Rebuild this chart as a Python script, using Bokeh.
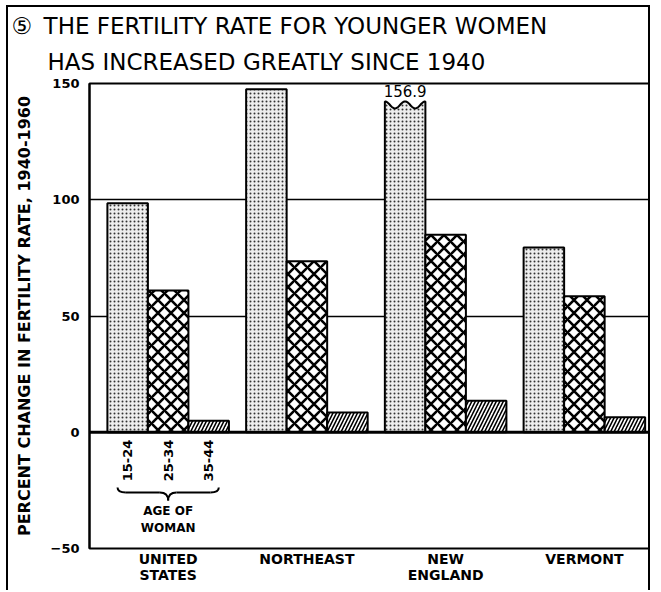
import numpy as np
from math import pi
from bokeh.plotting import figure
from bokeh.models import ColumnDataSource, FixedTicker, Span, Title, Range1d
from bokeh.core.properties import value
from bokeh.embed import file_html
from bokeh.resources import INLINE

# ---- data ----
categories = ["UNITED STATES", "NORTHEAST", "NEW ENGLAND", "VERMONT"]
age_groups = ["15-24", "25-34", "35-44"]
age_15_24 = [98.5, 147.5, 156.9, 79.5]
age_25_34 = [61.0, 73.5, 85.0, 58.5]
age_35_44 = [5.0, 8.5, 13.5, 6.5]
y_ticks = [-50, 0, 50, 100, 150]
grid_ticks = [50, 100]

FONT = "DejaVu Sans"
y_max = 150
break_at = 140.8      # drawn height of a bar that runs off the chart
bw = 0.292            # bar width in category units

p = figure(width=644, height=585,
           x_range=Range1d(-0.567, 3.491), y_range=Range1d(-50, y_max),
           output_backend="svg", toolbar_location=None,
           min_border_left=81, min_border_right=0,
           min_border_top=76, min_border_bottom=44,
           background_fill_color="white", border_fill_color="white")
p.styles = {"margin-left": "6px", "margin-top": "5px",
            "border-top": "2px solid black", "border-left": "2px solid black",
            "border-right": "2px solid black"}

# titles (p.title is the outer line, the added one sits next to the frame)
p.title.text = "\u2464\u2002THE FERTILITY RATE FOR YOUNGER WOMEN"
p.title.align = "left"
p.title.offset = -78
p.title.standoff = 0
p.title.text_font = FONT
p.title.text_font_size = "23px"
p.title.text_font_style = "normal"
p.title.text_color = "black"
p.add_layout(Title(text="HAS INCREASED GREATLY SINCE 1940", align="left",
                   offset=-42, standoff=17, text_font=FONT, text_font_size="23px",
                   text_font_style="normal", text_color="black"), "above")

p.outline_line_color = "black"
p.outline_line_width = 2

# grid
p.xgrid.visible = False
p.ygrid.ticker = FixedTicker(ticks=grid_ticks)
p.ygrid.grid_line_color = "black"
p.ygrid.grid_line_width = 1.5

# y axis
p.yaxis.ticker = FixedTicker(ticks=y_ticks)
p.yaxis.axis_label = "PERCENT CHANGE IN FERTILITY RATE, 1940-1960"
p.yaxis.axis_label_text_font = FONT
p.yaxis.axis_label_text_font_style = "bold"
p.yaxis.axis_label_text_font_size = "16px"
p.yaxis.axis_label_text_color = "black"
p.yaxis.axis_label_standoff = 14
p.yaxis.major_label_text_font = FONT
p.yaxis.major_label_text_font_style = "bold"
p.yaxis.major_label_text_font_size = "13px"
p.yaxis.major_label_text_color = "black"
p.yaxis.major_label_standoff = 10
p.yaxis.major_tick_in = 0
p.yaxis.major_tick_out = 0
p.yaxis.minor_tick_in = 0
p.yaxis.minor_tick_out = 0
p.yaxis.axis_line_width = 2

# x axis
idx = np.arange(len(categories))
p.xaxis.ticker = FixedTicker(ticks=[int(i) for i in idx])
p.xaxis.major_label_overrides = {int(i): c.replace(" ", "\n") for i, c in zip(idx, categories)}
p.xaxis.major_label_text_font = FONT
p.xaxis.major_label_text_font_style = "bold"
p.xaxis.major_label_text_font_size = "14px"
p.xaxis.major_label_text_color = "black"
p.xaxis.major_label_text_line_height = 1.0
p.xaxis.major_label_standoff = 2
p.xaxis.major_tick_in = 0
p.xaxis.major_tick_out = 0
p.xaxis.minor_tick_in = 0
p.xaxis.minor_tick_out = 0
p.xaxis.axis_line_color = None

# bars
styles = [
    dict(fill_color="#eeeeee", hatch_pattern="dot", hatch_scale=4, hatch_weight=1.3, hatch_color="#333333"),
    dict(fill_color="white", hatch_pattern="diagonal_cross", hatch_scale=13, hatch_weight=2.6, hatch_color="black"),
    dict(fill_color="white", hatch_pattern="right_diagonal_line", hatch_scale=7, hatch_weight=1.6, hatch_color="black"),
]
series = [age_15_24, age_25_34, age_35_44]
for k, (vals, st) in enumerate(zip(series, styles)):
    xs = idx + (k - 1) * bw
    vals = np.array(vals, dtype=float)
    broken = vals > y_max
    src = ColumnDataSource(dict(x=xs[~broken], top=vals[~broken]))
    p.vbar(x="x", top="top", bottom=0, width=bw, source=src,
           line_color="black", line_width=2, **st)
    for xb, vb in zip(xs[broken], vals[broken]):
        t = np.linspace(0, 1, 61)
        wx = (xb - bw / 2) + t * bw
        wy = break_at + 1.5 * np.cos(4 * pi * t)
        px = np.concatenate([[xb - bw / 2], wx, [xb + bw / 2]])
        py = np.concatenate([[0], wy, [0]])
        p.patch(px, py, line_color="black", line_width=2, **st)
        p.text(x=[xb], y=[break_at + 5.8], text=[f"{vb:.1f}"],
               text_font=value(FONT), text_font_size="15px",
               text_align="center", text_baseline="middle", text_color="black")

# zero line
p.add_layout(Span(location=0, dimension="width", line_color="black", line_width=3))

# age labels under the first group
us_x = idx[0] + (np.arange(len(age_groups)) - 1) * bw
p.text(x=us_x, y=[-3.2] * len(age_groups), text=age_groups, angle=pi / 2,
       text_align="right", text_baseline="middle", text_font=value(FONT),
       text_font_style="bold", text_font_size="13px", text_color="black")

# brace
M = us_x[1]
L = M - 1.25 * bw
R = M + 1.25 * bw
d = 0.06
y_end, y_mid, y_tip = -23.8, -25.9, -29.4
p.quadratic(x0=[L, R, M - d, M + d], y0=[y_end, y_end, y_mid, y_mid],
            x1=[L + d, R - d, M, M], y1=[y_mid, y_mid, y_tip, y_tip],
            cx=[L, R, M, M], cy=[y_mid, y_mid, y_mid, y_mid],
            line_color="black", line_width=2)
p.segment(x0=[L + d, M + d], y0=[y_mid, y_mid], x1=[M - d, R - d], y1=[y_mid, y_mid],
          line_color="black", line_width=2)
p.text(x=[M, M], y=[-33.7, -41.0], text=["AGE OF", "WOMAN"],
       text_align="center", text_baseline="middle", text_font=value(FONT),
       text_font_style="bold", text_font_size="12px", text_color="black")

open("out.html", "w").write(file_html(p, INLINE))
